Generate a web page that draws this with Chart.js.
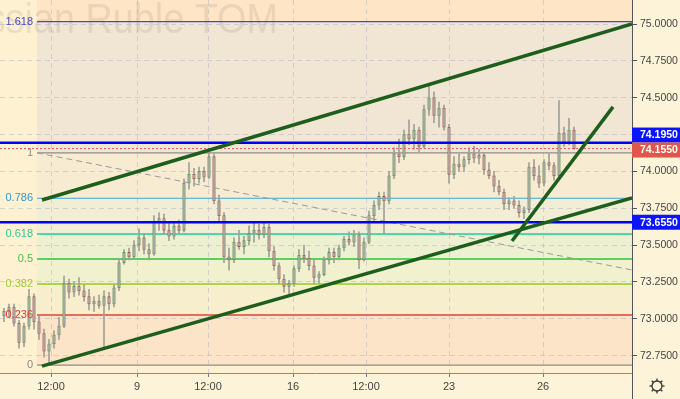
<!DOCTYPE html>
<html>
<head>
<meta charset="utf-8">
<script src="https://cdn.jsdelivr.net/npm/chart.js@4"></script>
<style>
  html, body { margin: 0; padding: 0; background: #fdf3d8; }
  canvas { display: block; }
</style>
</head>
<body>
<canvas id="chart" width="680" height="399"></canvas>
<script>
// candles, one per bar (x = bar index)
const opens = [
    73.02, 73.05, 73.08, 72.97, 72.84, 72.95, 73.15, 72.98, 72.90, 72.78,
    72.83, 72.89, 72.95, 73.24, 73.18, 73.22, 73.19, 73.15, 73.10, 73.12,
    73.09, 73.15, 73.10, 73.21, 73.38, 73.45, 73.42, 73.50, 73.55, 73.47,
    73.44, 73.66, 73.68, 73.60, 73.56, 73.63, 73.60, 73.92, 73.98, 73.95,
    74.00, 73.96, 74.10, 73.80, 73.70, 73.42, 73.40, 73.52, 73.49, 73.53,
    73.58, 73.60, 73.57, 73.62, 73.46, 73.36, 73.27, 73.22, 73.24, 73.34,
    73.43, 73.41, 73.36, 73.28, 73.30, 73.40, 73.45, 73.42, 73.48, 73.54,
    73.52, 73.57, 73.40, 73.52, 73.70, 73.77, 73.83, 73.80, 73.97, 74.12,
    74.10, 74.25, 74.22, 74.28, 74.17, 74.42, 74.50, 74.38, 74.43, 74.30,
    73.98, 74.05, 74.03, 74.08, 74.12, 74.09, 74.11, 74.01, 73.97, 73.90,
    73.86, 73.78, 73.80, 73.77, 73.72, 73.74, 74.03, 73.97, 73.92, 74.06,
    74.04, 73.97, 74.26, 74.20, 74.28
];
const highs = [
    73.07, 73.10, 73.10, 72.99, 72.97, 73.20, 73.17, 73.02, 72.93, 72.86,
    72.92, 73.01, 73.29, 73.27, 73.25, 73.28, 73.23, 73.20, 73.15, 73.16,
    73.19, 73.18, 73.23, 73.41, 73.47, 73.48, 73.53, 73.61, 73.58, 73.51,
    73.70, 73.72, 73.71, 73.66, 73.66, 73.67, 73.95, 74.06, 74.02, 74.03,
    74.03, 74.13, 74.12, 73.84, 73.72, 73.48, 73.55, 73.60, 73.56, 73.63,
    73.65, 73.64, 73.65, 73.64, 73.49, 73.38, 73.30, 73.26, 73.36, 73.47,
    73.50, 73.46, 73.40, 73.32, 73.42, 73.48, 73.48, 73.50, 73.56, 73.59,
    73.60, 73.59, 73.55, 73.73, 73.80, 73.86, 73.86, 74.00, 74.16, 74.22,
    74.28, 74.35, 74.32, 74.30, 74.45, 74.59, 74.54, 74.47, 74.45, 74.32,
    74.10, 74.12, 74.10, 74.16, 74.17, 74.15, 74.13, 74.06, 74.00, 73.94,
    73.88, 73.82, 73.83, 73.80, 73.76, 74.06, 74.08, 74.04, 74.08, 74.12,
    74.06, 74.48, 74.30, 74.36, 74.30
];
const lows = [
    72.98, 73.01, 72.95, 72.80, 72.81, 72.93, 72.93, 72.86, 72.74, 72.685,
    72.80, 72.86, 72.94, 73.14, 73.15, 73.16, 73.12, 73.06, 73.05, 73.07,
    72.80, 73.06, 73.08, 73.19, 73.37, 73.40, 73.41, 73.46, 73.44, 73.40,
    73.43, 73.60, 73.57, 73.53, 73.54, 73.58, 73.59, 73.88, 73.90, 73.92,
    73.93, 73.95, 73.78, 73.66, 73.38, 73.33, 73.38, 73.47, 73.44, 73.50,
    73.52, 73.54, 73.55, 73.42, 73.33, 73.24, 73.18, 73.17, 73.22, 73.32,
    73.38, 73.33, 73.24, 73.24, 73.29, 73.37, 73.38, 73.40, 73.46, 73.50,
    73.49, 73.34, 73.39, 73.51, 73.66, 73.74, 73.58, 73.78, 73.95, 74.06,
    74.08, 74.18, 74.15, 74.13, 74.16, 74.38, 74.33, 74.30, 74.28, 73.92,
    73.95, 74.00, 74.00, 74.05, 74.06, 74.05, 73.98, 73.95, 73.86, 73.84,
    73.74, 73.74, 73.75, 73.69, 73.68, 73.72, 73.94, 73.89, 73.90, 74.01,
    73.94, 73.95, 74.17, 74.18, 74.15
];
const closes = [
    73.05, 73.08, 72.97, 72.84, 72.95, 73.15, 72.98, 72.90, 72.78, 72.83,
    72.89, 72.95, 73.24, 73.18, 73.22, 73.19, 73.15, 73.10, 73.12, 73.09,
    73.15, 73.10, 73.21, 73.38, 73.45, 73.42, 73.50, 73.55, 73.47, 73.44,
    73.66, 73.68, 73.60, 73.56, 73.63, 73.60, 73.92, 73.98, 73.95, 74.00,
    73.96, 74.10, 73.80, 73.70, 73.42, 73.40, 73.52, 73.49, 73.53, 73.58,
    73.60, 73.57, 73.62, 73.46, 73.36, 73.27, 73.22, 73.24, 73.34, 73.43,
    73.41, 73.36, 73.28, 73.30, 73.40, 73.45, 73.42, 73.48, 73.54, 73.52,
    73.57, 73.40, 73.52, 73.70, 73.77, 73.83, 73.80, 73.97, 74.12, 74.10,
    74.25, 74.22, 74.28, 74.17, 74.42, 74.50, 74.38, 74.43, 74.30, 73.98,
    74.05, 74.03, 74.08, 74.12, 74.09, 74.11, 74.01, 73.97, 73.90, 73.86,
    73.78, 73.80, 73.77, 73.72, 73.74, 74.03, 73.97, 73.92, 74.06, 74.04,
    73.97, 74.26, 74.20, 74.28, 74.155
];

// x axis: bar positions of the date labels
const tickBars = [9.4, 26.6, 40.8, 57.8, 72.4, 89.0, 107.8];
const tickLabels = ["12:00", "9", "12:00", "16", "12:00", "23", "26"];
const priceTicks = [72.75, 73.0, 73.25, 73.5, 73.75, 74.0, 74.25, 74.5, 74.75, 75.0];

// fibonacci retracement drawn from the low to the high
const fibRatios = [0, 0.236, 0.382, 0.5, 0.618, 0.786, 1, 1.618];
const fibLabels = ["0", "0.236", "0.382", "0.5", "0.618", "0.786", "1", "1.618"];
const fibLow = 72.685;
const fibHigh = 74.126;
const fibStartBar = 6.6;

// drawn lines: [bar, price] pairs
const upperChannel = [[7.6, 73.806], [125.6, 75.0]];
const lowerChannel = [[7.6, 72.679], [125.6, 73.820]];
const steepLine = [[101.6, 73.528], [121.8, 74.438]];
const dashedLine = [[6.6, 74.126], [125.6, 73.331]];

// horizontal price marks
const blueLevels = [74.195, 73.655];
const lastPrice = 74.155;

const X_MIN = -0.8, X_MAX = 125.6;
const Y_MIN = 72.632, Y_MAX = 75.163;
const FONT = "'Liberation Sans', Arial, sans-serif";

const fibLineColors = ['#8c8c8c', '#e0705a', '#a8d84a', '#5cd05c', '#4ed8a8', '#34a8e0', '#8c8c8c', '#4646d8'];
const fibTextColors = ['#8a8a8a', '#e03a3a', '#9cc93a', '#44c044', '#2fc894', '#2f98d0', '#8a8a8a', '#4646c8'];
// zone colour between level k and k+1, last one is above 1.618
const fibZoneColors = ['#fbe4c8', '#f6eecc', '#f1f0cf', '#eef0d2', '#f2edd5', '#f7ecd1', '#f0e6d3', '#fde5c6'];

const fibLevels = fibRatios.map(r => fibLow + r * (fibHigh - fibLow));
const bars = closes.map((c, i) => i);

function seg(points) {
    return points.map(p => ({ x: p[0], y: p[1] }));
}

const datasets = [];

// trend lines on top
[upperChannel, lowerChannel, steepLine].forEach(function (pts) {
    datasets.push({
        type: 'line', data: seg(pts), borderColor: '#1d5e1d', borderWidth: 3.5,
        pointRadius: 0, order: 1
    });
});
datasets.push({
    type: 'line', data: seg(dashedLine), borderColor: '#9a9a9a', borderWidth: 1,
    borderDash: [6, 4], pointRadius: 0, order: 3
});

// blue horizontal levels and last price
blueLevels.forEach(function (p) {
    datasets.push({
        type: 'line', data: [{ x: X_MIN, y: p }, { x: X_MAX, y: p }], borderColor: '#0000ff',
        borderWidth: 2.5, pointRadius: 0, order: 2
    });
});
datasets.push({
    type: 'line', data: [{ x: X_MIN, y: lastPrice }, { x: X_MAX, y: lastPrice }], borderColor: '#e05a5a',
    borderWidth: 1, borderDash: [2, 2], pointRadius: 0, order: 2
});

// candle bodies and wicks
datasets.push({
    type: 'bar', data: bars.map(i => ({ x: i, y: [opens[i], closes[i]] })),
    backgroundColor: '#aeaea6',
    borderColor: bars.map(i => closes[i] >= opens[i] ? '#5b8f5b' : '#a05555'),
    borderWidth: 0.8, borderSkipped: false, barThickness: 2.6, grouped: false, order: 5
});
datasets.push({
    type: 'bar', data: bars.map(i => ({ x: i, y: [lows[i], highs[i]] })),
    backgroundColor: '#a0a098', barThickness: 1, grouped: false, order: 6
});

// fibonacci lines under the candles
fibLevels.forEach(function (p, k) {
    datasets.push({
        type: 'line', data: [{ x: fibStartBar, y: p }, { x: X_MAX, y: p }], borderColor: fibLineColors[k],
        borderWidth: (k >= 1 && k <= 4) ? 2 : 1.2, pointRadius: 0, order: 7
    });
});

const backdrop = {
    id: 'backdrop',
    beforeDraw(chart) {
        const { ctx, chartArea: a, scales: { x, y } } = chart;
        ctx.save();
        ctx.fillStyle = '#fdf3d8';
        ctx.fillRect(0, 0, chart.width, chart.height);
        ctx.fillStyle = '#fdf1d2';
        ctx.fillRect(a.left, a.top, a.right - a.left, a.bottom - a.top);
        const x0 = x.getPixelForValue(fibStartBar);
        for (let k = 0; k < fibLevels.length; k++) {
            const yb = y.getPixelForValue(fibLevels[k]);
            const yt = k + 1 < fibLevels.length ? y.getPixelForValue(fibLevels[k + 1]) : a.top;
            ctx.fillStyle = fibZoneColors[k];
            ctx.fillRect(x0, yt, a.right - x0, yb - yt);
        }
        // watermark, slightly condensed
        ctx.font = "42px 'Liberation Sans', Arial, sans-serif";
        ctx.fillStyle = 'rgba(140,125,110,0.17)';
        ctx.textAlign = 'right';
        ctx.textBaseline = 'alphabetic';
        ctx.translate(278, 33);
        ctx.scale(0.9, 1);
        ctx.fillText('Russian Ruble TOM', 0, 0);
        ctx.restore();
    },
    afterDraw(chart) {
        const { ctx, chartArea: a, scales: { x, y } } = chart;
        ctx.save();
        // fib labels on the left
        ctx.font = '11px ' + FONT;
        ctx.textAlign = 'right';
        ctx.textBaseline = 'middle';
        const x0 = x.getPixelForValue(fibStartBar);
        fibLevels.forEach(function (p, k) {
            ctx.fillStyle = fibTextColors[k];
            ctx.fillText(fibLabels[k], x0 - 4, y.getPixelForValue(p));
        });

        // price boxes on the right axis
        const redY = y.getPixelForValue(lastPrice) + 1.5;
        const boxes = [
            { v: blueLevels[0], c: '#0a14ff', cy: Math.min(y.getPixelForValue(blueLevels[0]), redY - 15) },
            { v: lastPrice, c: '#e0574a', cy: redY },
            { v: blueLevels[1], c: '#0a14ff', cy: y.getPixelForValue(blueLevels[1]) }
        ];
        ctx.font = 'bold 10.5px ' + FONT;
        ctx.textAlign = 'left';
        boxes.forEach(function (b) {
            ctx.fillStyle = b.c;
            ctx.fillRect(a.right, b.cy - 7.5, chart.width - a.right, 15);
            ctx.fillStyle = '#ffffff';
            ctx.fillText(b.v.toFixed(4), a.right + 8, b.cy + 0.5);
        });

        // right axis line runs to the bottom
        ctx.strokeStyle = '#555';
        ctx.lineWidth = 1;
        ctx.beginPath();
        ctx.moveTo(a.right + 0.5, a.bottom);
        ctx.lineTo(a.right + 0.5, chart.height);
        ctx.stroke();

        // settings gear
        const gx = 657, gy = 386;
        ctx.strokeStyle = '#333';
        ctx.lineWidth = 1.3;
        ctx.beginPath();
        ctx.arc(gx, gy, 5, 0, Math.PI * 2);
        ctx.stroke();
        for (let s = 0; s < 8; s++) {
            const ang = s * Math.PI / 4;
            ctx.beginPath();
            ctx.moveTo(gx + Math.cos(ang) * 5, gy + Math.sin(ang) * 5);
            ctx.lineTo(gx + Math.cos(ang) * 7.5, gy + Math.sin(ang) * 7.5);
            ctx.stroke();
        }
        ctx.restore();
    }
};

const gridColor = 'rgba(170,170,195,0.45)';

const chart = new Chart(document.getElementById('chart').getContext('2d'), {
    type: 'bar',
    data: { datasets: datasets },
    options: {
        responsive: false,
        animation: false,
        layout: { padding: 0 },
        plugins: { legend: { display: false }, tooltip: { enabled: false } },
        scales: {
            x: {
                type: 'linear', min: X_MIN, max: X_MAX, offset: false,
                grid: { color: gridColor, offset: false, tickLength: 4, tickColor: '#777' },
                border: { color: '#8a8a8a', dash: [5, 4] },
                ticks: {
                    autoSkip: false, maxRotation: 0, padding: 3, color: '#444',
                    font: { family: FONT, size: 11 },
                    callback: (v, i) => tickLabels[i]
                },
                afterBuildTicks: s => { s.ticks = tickBars.map(v => ({ value: v })); },
                afterFit: s => { s.height = 26; s.paddingLeft = 0; s.paddingRight = 0; }
            },
            y: {
                type: 'linear', position: 'right', min: Y_MIN, max: Y_MAX,
                grid: { color: gridColor, tickLength: 5, tickColor: '#555' },
                border: { color: '#555', dash: [5, 4] },
                ticks: {
                    padding: 3, color: '#444', font: { family: FONT, size: 10.5 },
                    callback: v => Number(v).toFixed(4)
                },
                afterBuildTicks: s => { s.ticks = priceTicks.map(v => ({ value: v })); },
                afterFit: s => { s.width = 48; s.paddingTop = 0; s.paddingBottom = 0; }
            }
        }
    },
    plugins: [backdrop]
});
</script>
</body>
</html>
